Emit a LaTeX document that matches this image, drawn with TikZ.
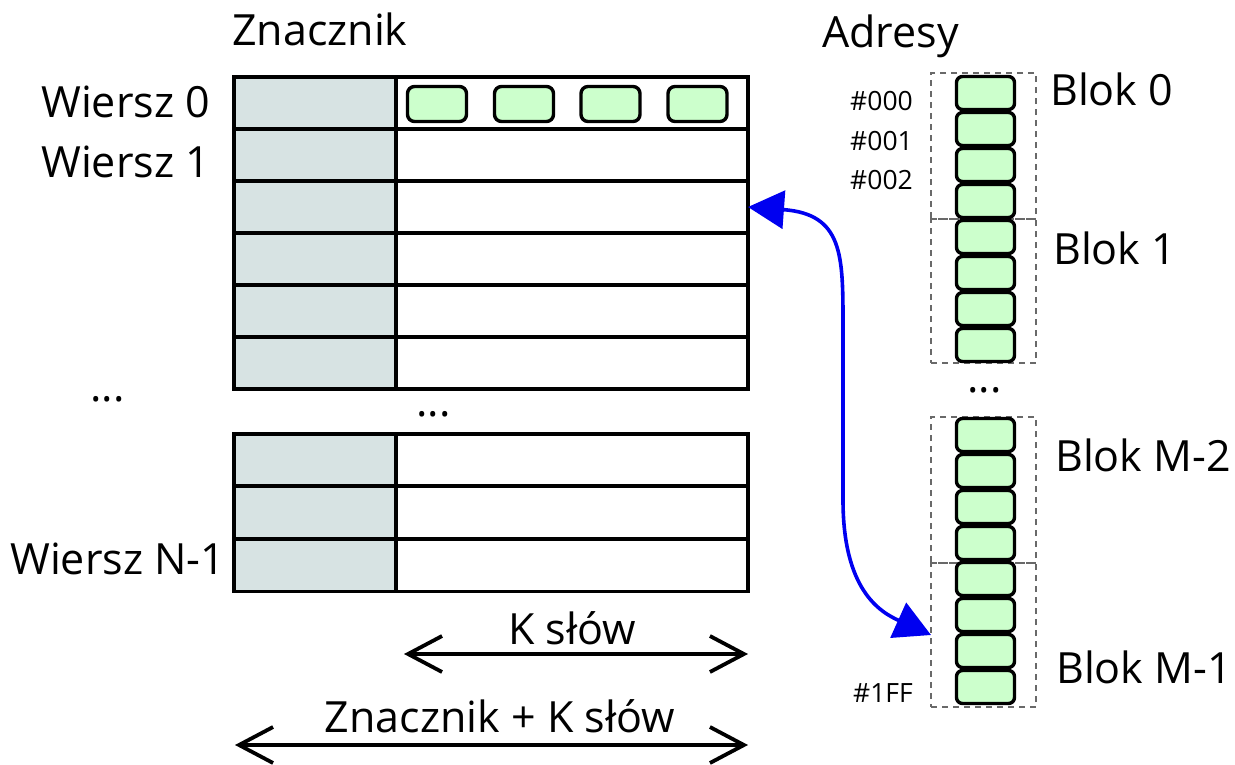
\documentclass[tikz,border=0pt]{standalone}
\usepackage{fontspec}
\setmainfont{Open Sans}
\usetikzlibrary{arrows.meta}
\definecolor{tagfill}{RGB}{215,227,227}
\definecolor{wordfill}{RGB}{204,255,204}
\definecolor{dashgray}{RGB}{105,105,105}
\definecolor{linkblue}{RGB}{0,0,240}
\begin{document}
\begin{tikzpicture}[x=1pt,y=-1pt,
  tagcell/.style={draw=black, line width=3.4pt, fill=tagfill, inner sep=0pt, outer sep=0pt,
    minimum width=162pt, minimum height=52pt, anchor=north west},
  datacell/.style={draw=black, line width=3.4pt, fill=white, inner sep=0pt, outer sep=0pt,
    minimum width=352pt, minimum height=52pt, anchor=north west},
  word/.style={draw=black, line width=3.4pt, fill=wordfill, rounded corners=7pt, inner sep=0pt,
    minimum width=59pt, minimum height=35pt},
  memword/.style={draw=black, line width=3.4pt, fill=wordfill, rounded corners=6pt, inner sep=0pt,
    minimum width=58pt, minimum height=33pt},
  blockbox/.style={draw=dashgray, line width=1.3pt, dash pattern=on 6pt off 5pt, inner sep=0pt,
    outer sep=0pt, minimum width=105pt},
  big/.style={font=\fontsize{43}{50}\selectfont, inner sep=0pt},
  small/.style={font=\fontsize{26.5}{30}\selectfont, inner sep=0pt},
  span/.style={line width=3.8pt, {Straight Barb[length=34pt,width=36pt]}-{Straight Barb[length=34pt,width=36pt]}},
  link/.style={draw=linkblue, line width=3.6pt,
    {Triangle[length=36pt,width=38pt]}-{Triangle[length=36pt,width=38pt]}}
]
\useasboundingbox (0,0) rectangle (1235,764);

% cache lines: tag column and data words, upper group
\foreach \i in {0,...,5} {
  \node[tagcell] (tag\i) at (234,{77+52*\i}) {};
  \node[datacell] (row\i) at (396,{77+52*\i}) {};
}
% last lines of the cache
\foreach \i in {0,1,2} {
  \node[tagcell] (tagL\i) at (234,{434+52.7*\i}) {};
  \node[datacell] (rowL\i) at (396,{434+52.7*\i}) {};
}
% words held in line 0
\foreach \j/\x in {1/437,2/524,3/610.5,4/697.5}
  \node[word] (w\j) at (\x,104) {};

% memory blocks (dashed frames)
\node[blockbox, minimum height=146pt] (blk0) at (983.5,146) {};
\node[blockbox, minimum height=144pt] (blk1) at (983.5,291) {};
\node[blockbox, minimum height=146pt] (blk2) at (983.5,490) {};
\node[blockbox, minimum height=144pt] (blk3) at (983.5,635) {};
% memory words
\foreach \k in {0,...,7} {
  \node[memword] (m\k) at (985.5,{93+36*\k}) {};
  \node[memword] (n\k) at (985.5,{435+36*\k}) {};
}

% headers
\node[big, anchor=base west] (hdrTag) at (232,45) {Znacznik};
\node[big, anchor=base west] (hdrAddr) at (822,47) {Adresy};

% line labels
\node[big, anchor=base west] (lw0) at (41,117) {Wiersz 0};
\node[big, anchor=base west] (lw1) at (41,177) {Wiersz 1};
\node[big, anchor=base west] (lwN) at (10,574) {Wiersz N-1};
\node[big, anchor=base west] (dotsA) at (90,401) {...};
\node[big, anchor=base west] (dotsB) at (416,416) {...};
\node[big, anchor=base west] (dotsC) at (967,392) {...};

% block labels
\node[big, anchor=base west] (lb0) at (1050,105) {Blok 0};
\node[big, anchor=base west] (lb1) at (1053,264) {Blok 1};
\node[big, anchor=base west] (lb2) at (1055,471) {Blok M-2};
\node[big, anchor=base west] (lb3) at (1056,683) {Blok M-1};

% addresses
\node[small, anchor=base east] (a0) at (913,110) {\#000};
\node[small, anchor=base east] (a1) at (913,150) {\#001};
\node[small, anchor=base east] (a2) at (913,189) {\#002};
\node[small, anchor=base east] (a3) at (913,702) {\#1FF};

% width annotations
\coordinate (kL) at (404,654);
\coordinate (kR) at (748,654);
\coordinate (tL) at (235,745);
\coordinate (tR) at (748,745);
\draw[span] (kL) -- (kR);
\draw[span] (tL) -- (tR);
\node[big, anchor=base] (kLab) at (572,644) {K słów};
\node[big, anchor=base] (tLab) at (500,732) {Znacznik + K słów};

% mapping between cache line and memory block
\draw[link] (row2.east) .. controls (843,214) and (843,255) .. (843,325)
  -- (843,500) .. controls (843,590) and (880,612) .. (blk3.west);
\end{tikzpicture}
\end{document}
